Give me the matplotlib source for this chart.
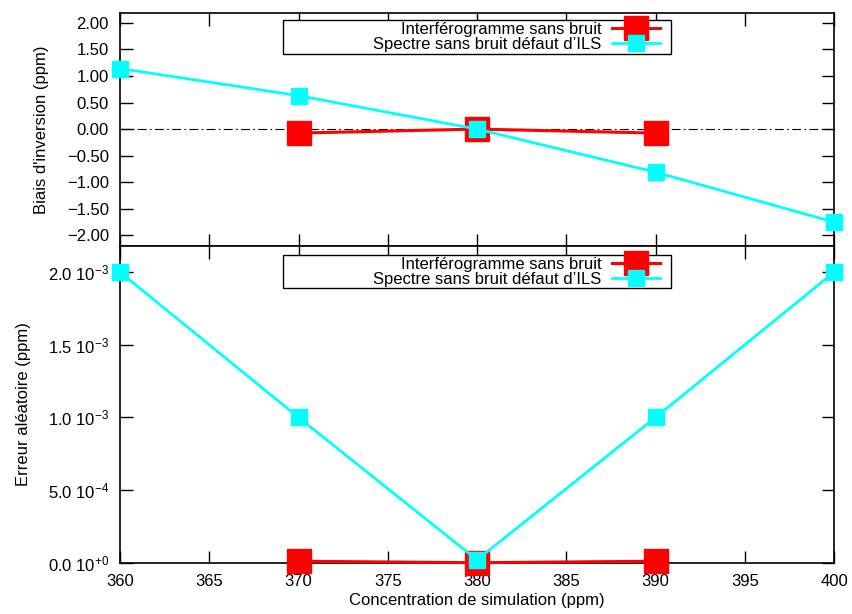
import matplotlib
matplotlib.use("Agg")
import matplotlib.pyplot as plt
from matplotlib.patches import Rectangle
from matplotlib.ticker import FuncFormatter

plt.rcParams['font.family'] = ['Liberation Sans', 'DejaVu Sans']
plt.rcParams['mathtext.fontset'] = 'custom'
plt.rcParams['mathtext.rm'] = 'Liberation Sans'
plt.rcParams['mathtext.it'] = 'Liberation Sans'
plt.rcParams['font.size'] = 12

# donnees
conc_red = [370, 380, 390]
conc_cyan = [360, 370, 380, 390, 400]

biais_red = [-0.075, 0.0, -0.075]
biais_cyan = [1.14, 0.63, 0.0, -0.81, -1.75]

erreur_red = [1.0e-5, 0.0, 1.0e-5]
erreur_cyan = [2.0e-3, 1.0e-3, 2.0e-5, 1.0e-3, 2.0e-3]

label_red = "Interférogramme sans bruit"
label_cyan = "Spectre sans bruit défaut d’ILS"

x_ticks = [360, 365, 370, 375, 380, 385, 390, 395, 400]
top_ticks = [-2.0, -1.5, -1.0, -0.5, 0.0, 0.5, 1.0, 1.5, 2.0]
bot_ticks = [0.0, 5.0e-4, 1.0e-3, 1.5e-3, 2.0e-3]
bot_labels = [r"0.0 10$^{+0}$", r"5.0 10$^{-4}$", r"1.0 10$^{-3}$",
              r"1.5 10$^{-3}$", r"2.0 10$^{-3}$"]

W, H = 852, 614
fig = plt.figure(figsize=(W / 100, H / 100), dpi=100)
left, right = 120 / W, 834 / W
ax1 = fig.add_axes([left, 1 - 246 / H, right - left, (246 - 12.7) / H])
ax2 = fig.add_axes([left, 1 - 562.7 / H, right - left, (562.7 - 246) / H])


def style_axes(ax):
    for s in ax.spines.values():
        s.set_linewidth(1.2)
    ax.tick_params(direction='in', length=9, width=1, top=True, right=True,
                   labelsize=12, colors='black')
    ax.tick_params(axis='x', pad=8)
    ax.tick_params(axis='y', pad=8)
    ax.set_xlim(360, 400)
    ax.set_xticks(x_ticks)


def key_box(ax, y_top, y_bot):
    # cadre de legende a la gnuplot (largeur fixe)
    box = Rectangle((283 / W, 1 - y_bot / H), (671 - 283) / W,
                    (y_bot - y_top) / H, transform=fig.transFigure,
                    facecolor='white', edgecolor='black', lw=1.0, zorder=9)
    ax.add_artist(box)
    leg = ax.legend(loc='upper right', bbox_to_anchor=(660 / W, 1 - (y_top + 2) / H),
                    bbox_transform=fig.transFigure, markerfirst=False,
                    numpoints=1, fontsize=12, handlelength=2.9,
                    handletextpad=0.6, borderpad=0, labelspacing=0.0,
                    borderaxespad=0, frameon=False)
    leg.set_zorder(10)


# panneau du haut
ax1.axhline(0, color='black', lw=0.8, ls=(0, (8, 3, 1.5, 3)), zorder=1)
ax1.plot(conc_red, biais_red, color='red', lw=2.2, marker='s', ms=17,
         label=label_red, zorder=3)
ax1.plot(conc_cyan, biais_cyan, color='cyan', lw=2, marker='s', ms=11,
         label=label_cyan, zorder=4, clip_on=False)
style_axes(ax1)
ax1.set_ylim(-2.2, 2.19)
ax1.set_yticks(top_ticks)
ax1.yaxis.set_major_formatter(FuncFormatter(lambda v, p: ("%.2f" % v).replace("-", "\u2212")))
ax1.tick_params(labelbottom=False)
ax1.set_ylabel("Biais d'inversion (ppm)", fontsize=12, labelpad=13)
key_box(ax1, 20, 54)

# panneau du bas
ax2.plot(conc_red, erreur_red, color='red', lw=2.2, marker='s', ms=17,
         label=label_red, zorder=3, clip_on=False)
ax2.plot(conc_cyan, erreur_cyan, color='cyan', lw=2, marker='s', ms=11,
         label=label_cyan, zorder=4, clip_on=False)
style_axes(ax2)
ax2.set_ylim(0, 2.18e-3)
ax2.set_yticks(bot_ticks)
ax2.set_yticklabels(bot_labels)
ax2.set_ylabel("Erreur aléatoire (ppm)", fontsize=12, labelpad=12)
ax2.set_xlabel("Concentration de simulation (ppm)", fontsize=12, labelpad=3)
key_box(ax2, 255, 288)

fig.savefig("out.png", dpi=100)
